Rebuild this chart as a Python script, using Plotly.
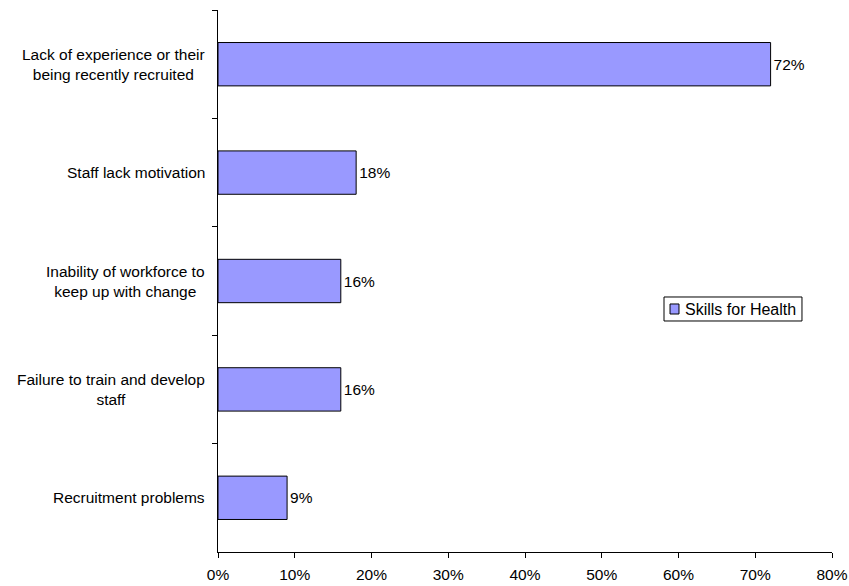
import plotly.graph_objects as go

categories = [
    "Lack of experience or their<br>being recently recruited",
    "Staff lack motivation",
    "Inability of workforce to<br>keep up with change",
    "Failure to train and develop<br>staff",
    "Recruitment problems",
]
values = [72, 18, 16, 16, 9]
series_name = "Skills for Health"
x_ticks = [0, 10, 20, 30, 40, 50, 60, 70, 80]

FS = 15.5
font = dict(family="Liberation Sans, Arial, sans-serif", size=FS, color="#000000")
BAR_COLOR = "#9999FF"

fig = go.Figure()
fig.add_trace(go.Bar(
    y=categories,
    x=values,
    orientation="h",
    name=series_name,
    marker=dict(color=BAR_COLOR, line=dict(color="#000000", width=1)),
    width=0.4,
    text=[f"{v}%" for v in values],
    textposition="outside",
    textfont=font,
    cliponaxis=False,
    showlegend=False,
))

# category labels: block right-aligned to the axis, lines centred within it
for c in categories:
    fig.add_annotation(
        x=0, xref="paper", y=c, yref="y",
        text=c, showarrow=False, xanchor="right", align="center",
        xshift=-11, font=font,
    )

# legend drawn as a boxed key
fig.add_shape(type="rect", xref="paper", yref="paper",
              x0=0.7264, x1=0.9511, y0=0.4262, y1=0.4705,
              line=dict(color="#000000", width=1), fillcolor="white")
fig.add_shape(type="rect", xref="paper", yref="paper",
              x0=0.7362, x1=0.7508, y0=0.4391, y1=0.4576,
              line=dict(color="#000000", width=1), fillcolor=BAR_COLOR)
fig.add_annotation(x=0.7573, y=0.4483, xref="paper", yref="paper",
                   text=series_name, showarrow=False, xanchor="left",
                   yanchor="middle", font=dict(font, size=16))

fig.update_layout(
    width=849, height=586,
    margin=dict(l=218, r=17, t=10, b=34),
    paper_bgcolor="white", plot_bgcolor="white",
    font=font,
    showlegend=False,
    xaxis=dict(
        range=[0, 80], tickvals=x_ticks, ticktext=[f"{t}%" for t in x_ticks],
        showline=True, linecolor="#000000", linewidth=1,
        ticks="outside", ticklen=5, tickcolor="#000000", ticklabelstandoff=3,
        showgrid=False, zeroline=False, tickfont=font, automargin=False,
    ),
    yaxis=dict(
        categoryorder="array", categoryarray=categories, autorange="reversed",
        showline=True, linecolor="#000000", linewidth=1,
        ticks="outside", ticklen=5, tickcolor="#000000", tickson="boundaries",
        showticklabels=False, showgrid=False, zeroline=False, automargin=False,
    ),
)

fig.write_html("out.html")
